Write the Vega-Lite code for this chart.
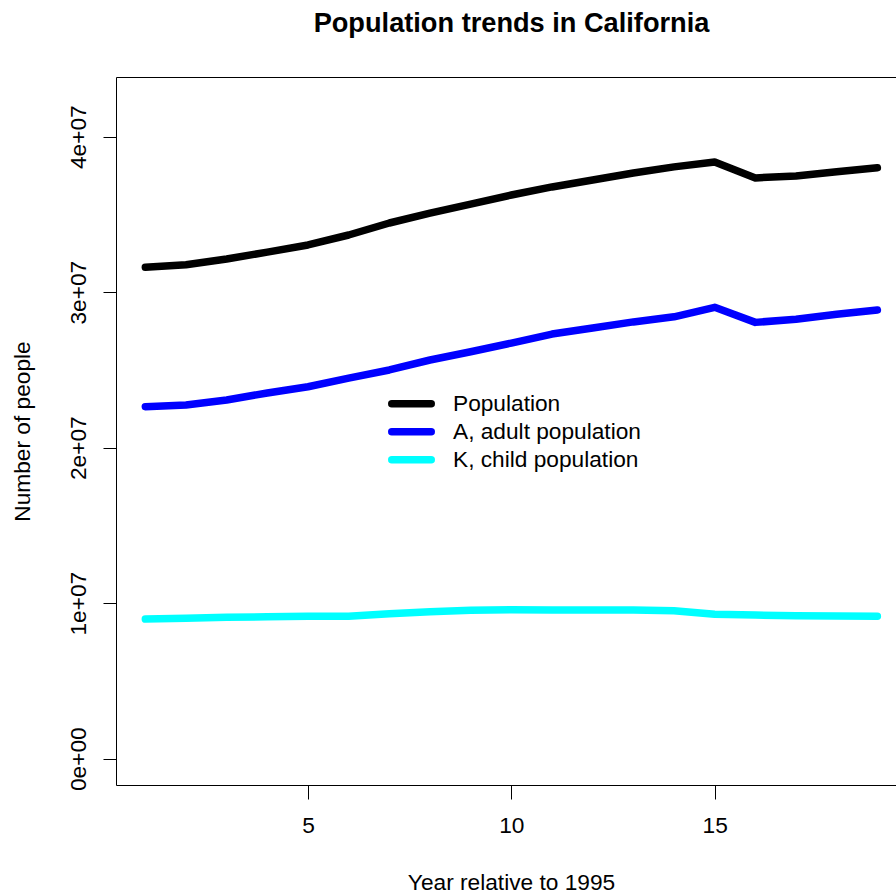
{
  "$schema": "https://vega.github.io/schema/vega-lite/v6.json",
  "width": 780,
  "height": 708,
  "autosize": {"type": "none"},
  "padding": {"left": 116, "top": 77, "right": 0, "bottom": 108},
  "background": "white",
  "title": {
    "text": "Population trends in California",
    "font": "Liberation Sans",
    "fontSize": 27.2,
    "fontWeight": "bold",
    "color": "black",
    "anchor": "middle",
    "frame": "group",
    "baseline": "alphabetic",
    "offset": 18,
    "dx": 5.5
  },
  "config": {
    "view": {"stroke": null},
    "font": "Liberation Sans",
    "axis": {
      "grid": false,
      "domainColor": "black",
      "domainWidth": 1,
      "tickColor": "black",
      "tickWidth": 1,
      "labelColor": "black",
      "labelFont": "Liberation Sans",
      "labelFontSize": 22.7,
      "titleFont": "Liberation Sans",
      "titleFontSize": 22.7,
      "titleFontWeight": "normal",
      "titleColor": "black",
      "labelFlush": false,
      "labelOverlap": false
    }
  },
  "data": {
    "values": [
      {"year": 1, "series": "Population", "people": 31600000},
      {"year": 2, "series": "Population", "people": 31770000},
      {"year": 3, "series": "Population", "people": 32140000},
      {"year": 4, "series": "Population", "people": 32580000},
      {"year": 5, "series": "Population", "people": 33040000},
      {"year": 6, "series": "Population", "people": 33680000},
      {"year": 7, "series": "Population", "people": 34450000},
      {"year": 8, "series": "Population", "people": 35090000},
      {"year": 9, "series": "Population", "people": 35670000},
      {"year": 10, "series": "Population", "people": 36250000},
      {"year": 11, "series": "Population", "people": 36770000},
      {"year": 12, "series": "Population", "people": 37220000},
      {"year": 13, "series": "Population", "people": 37670000},
      {"year": 14, "series": "Population", "people": 38060000},
      {"year": 15, "series": "Population", "people": 38380000},
      {"year": 16, "series": "Population", "people": 37350000},
      {"year": 17, "series": "Population", "people": 37480000},
      {"year": 18, "series": "Population", "people": 37740000},
      {"year": 19, "series": "Population", "people": 38000000},
      {"year": 1, "series": "A, adult population", "people": 22640000},
      {"year": 2, "series": "A, adult population", "people": 22750000},
      {"year": 3, "series": "A, adult population", "people": 23070000},
      {"year": 4, "series": "A, adult population", "people": 23520000},
      {"year": 5, "series": "A, adult population", "people": 23920000},
      {"year": 6, "series": "A, adult population", "people": 24480000},
      {"year": 7, "series": "A, adult population", "people": 25000000},
      {"year": 8, "series": "A, adult population", "people": 25640000},
      {"year": 9, "series": "A, adult population", "people": 26170000},
      {"year": 10, "series": "A, adult population", "people": 26730000},
      {"year": 11, "series": "A, adult population", "people": 27310000},
      {"year": 12, "series": "A, adult population", "people": 27700000},
      {"year": 13, "series": "A, adult population", "people": 28090000},
      {"year": 14, "series": "A, adult population", "people": 28420000},
      {"year": 15, "series": "A, adult population", "people": 29030000},
      {"year": 16, "series": "A, adult population", "people": 28060000},
      {"year": 17, "series": "A, adult population", "people": 28260000},
      {"year": 18, "series": "A, adult population", "people": 28580000},
      {"year": 19, "series": "A, adult population", "people": 28860000},
      {"year": 1, "series": "K, child population", "people": 8980000},
      {"year": 2, "series": "K, child population", "people": 9030000},
      {"year": 3, "series": "K, child population", "people": 9090000},
      {"year": 4, "series": "K, child population", "people": 9130000},
      {"year": 5, "series": "K, child population", "people": 9160000},
      {"year": 6, "series": "K, child population", "people": 9160000},
      {"year": 7, "series": "K, child population", "people": 9320000},
      {"year": 8, "series": "K, child population", "people": 9450000},
      {"year": 9, "series": "K, child population", "people": 9540000},
      {"year": 10, "series": "K, child population", "people": 9580000},
      {"year": 11, "series": "K, child population", "people": 9560000},
      {"year": 12, "series": "K, child population", "people": 9560000},
      {"year": 13, "series": "K, child population", "people": 9560000},
      {"year": 14, "series": "K, child population", "people": 9520000},
      {"year": 15, "series": "K, child population", "people": 9290000},
      {"year": 16, "series": "K, child population", "people": 9240000},
      {"year": 17, "series": "K, child population", "people": 9200000},
      {"year": 18, "series": "K, child population", "people": 9180000},
      {"year": 19, "series": "K, child population", "people": 9160000}
    ]
  },
  "layer": [
    {
      "mark": {"type": "line", "strokeWidth": 7.5, "strokeCap": "round", "strokeJoin": "round"},
      "encoding": {
        "x": {
          "field": "year",
          "type": "quantitative",
          "scale": {"domain": [0.279, 19.458], "nice": false, "zero": false},
          "axis": {
            "orient": "bottom",
            "values": [5, 10, 15],
            "title": "Year relative to 1995",
            "tickSize": 14,
            "labelPadding": 33,
            "labelBaseline": "alphabetic",
            "labelAlign": "center",
            "titleX": 395,
            "titleY": 104,
            "titleAlign": "center",
            "titleBaseline": "alphabetic"
          }
        },
        "y": {
          "field": "people",
          "type": "quantitative",
          "scale": {"domain": [-1690000, 43840000], "nice": false, "zero": false},
          "axis": {
            "orient": "left",
            "values": [0, 10000000, 20000000, 30000000, 40000000],
            "labelExpr": "datum.value == 0 ? '0e+00' : format(datum.value / 10000000, 'd') + 'e+07'",
            "labelAngle": 270,
            "labelAlign": "center",
            "labelBaseline": "alphabetic",
            "tickSize": 13,
            "labelPadding": 18,
            "title": "Number of people",
            "titleX": -87,
            "titleY": 354,
            "titleAngle": 270,
            "titleAlign": "center",
            "titleBaseline": "alphabetic"
          }
        },
        "color": {
          "field": "series",
          "type": "nominal",
          "sort": ["Population", "A, adult population", "K, child population"],
          "scale": {
            "domain": ["Population", "A, adult population", "K, child population"],
            "range": ["#000000", "#0000ff", "#00ffff"]
          },
          "legend": {
            "orient": "none",
            "legendX": 272,
            "legendY": 313,
            "title": null,
            "symbolType": "stroke",
            "symbolSize": 1560,
            "symbolStrokeWidth": 7.5,
            "labelFont": "Liberation Sans",
            "labelFontSize": 22.7,
            "labelColor": "black",
            "labelLimit": 0,
            "labelOffset": 18,
            "clipHeight": 27.5,
            "rowPadding": 0,
            "padding": 0,
            "encode": {"symbols": {"update": {"strokeCap": {"value": "round"}}}}
          }
        }
      }
    },
    {
      "mark": {"type": "line", "opacity": 0},
      "encoding": {
        "x": {
          "field": "year",
          "type": "quantitative",
          "axis": {"orient": "top", "ticks": false, "labels": false, "title": null, "domain": true}
        },
        "y": {"field": "people", "type": "quantitative", "axis": null},
        "detail": {"field": "series", "type": "nominal"}
      }
    }
  ],
  "resolve": {"axis": {"x": "independent", "y": "independent"}}
}
